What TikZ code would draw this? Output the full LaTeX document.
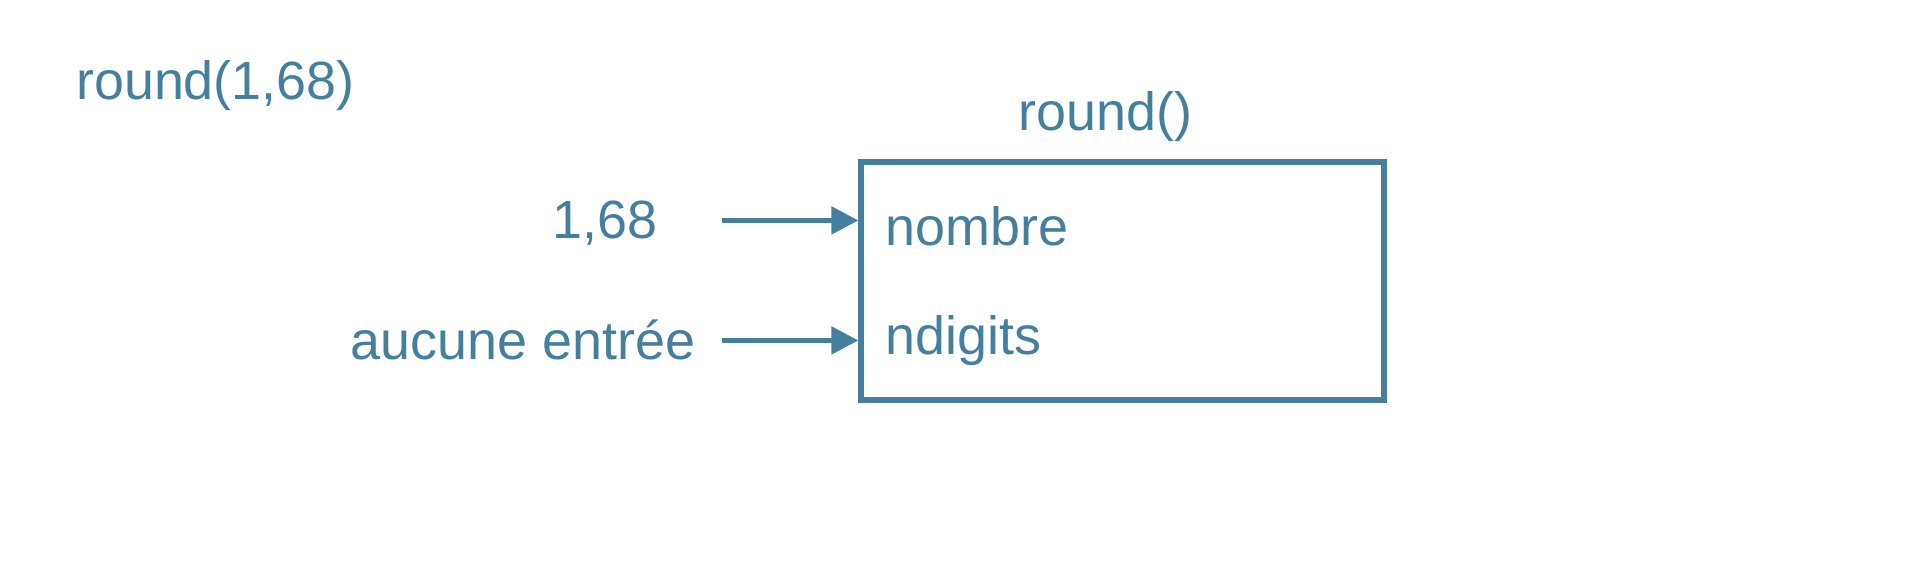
\documentclass[tikz,border=0pt]{standalone}
\usepackage{fontspec}
\setmainfont{Liberation Sans}
\usetikzlibrary{arrows.meta}
\definecolor{tc}{HTML}{44809E}
\begin{document}
\begin{tikzpicture}[x=1pt,y=-1pt,
  lbl/.style={text=tc,font=\fontsize{44}{48}\selectfont,inner sep=0pt},
  arr/.style={draw=tc,line width=4pt,-{Triangle[length=22pt,width=22pt]}}]
\useasboundingbox (0,0) rectangle (1568,458);
\node[lbl,anchor=west] (call) at (62,70) {round(1,68)};
\node[draw=tc,line width=5pt,minimum width=427pt,minimum height=195pt,inner sep=0pt] (box) at (916.5,229.5) {};
\node[lbl] (title) at (903,95) {round()};
\node[lbl,anchor=west] (p1) at (723,185) {nombre};
\node[lbl,anchor=west] (p2) at (723,278) {ndigits};
\node[lbl,anchor=east] (v1) at (537,182) {1,68};
\node[lbl,anchor=east] (v2) at (568,278) {aucune entrée};
\coordinate (s1) at (590,180); \coordinate (e1) at (701,180);
\coordinate (s2) at (590,278); \coordinate (e2) at (701,278);
\draw[arr] (s1) -- (e1);
\draw[arr] (s2) -- (e2);
\end{tikzpicture}
\end{document}
